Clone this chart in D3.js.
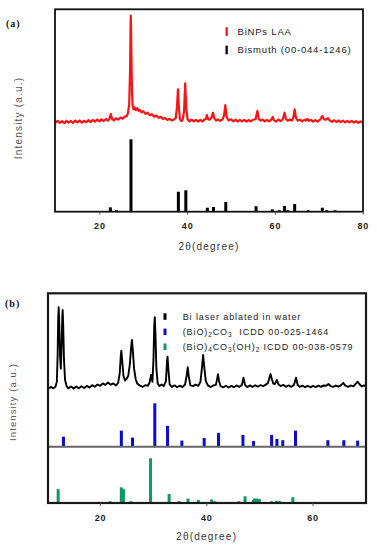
<!DOCTYPE html>
<html>
<head>
<meta charset="utf-8">
<script src="https://cdn.jsdelivr.net/npm/d3@7"></script>
<style>
  body { margin: 0; background: #fff; }
  svg { display: block; }
  .tick text { font-family: "Liberation Sans", Arial, sans-serif; font-weight: bold; font-size: 9px; letter-spacing: 0.8px; fill: #222; }
  .tick line { stroke: #555; }
  .lbl { font-family: "Liberation Sans", Arial, sans-serif; fill: #333; }
  .panel { font-family: "Liberation Serif", "Times New Roman", serif; font-weight: bold; font-size: 10px; letter-spacing: 1px; fill: #111; }
</style>
</head>
<body>
<svg id="chart" width="377" height="550"></svg>
<script>
// ====== panel (a) data ======
// measured BiNPs LAA pattern, [2theta, intensity]
const laaPattern = [
  [10,8.0],[10.5,9.6],[11,7.9],[11.5,9.4],[12,7.6],[12.5,9.7],[13,8.1],[13.5,9.5],[14,7.8],[14.5,9.8],
  [15,8.2],[15.5,9.9],[16,8.0],[16.5,9.6],[17,8.4],[17.5,10.2],[18,8.5],[18.5,10.4],[19,8.9],[19.5,10.6],
  [20,9.1],[20.5,10.9],[21,9.4],[21.5,11.2],[22,9.8],[22.3,11.5],[22.6,15.5],[22.9,11.2],[23.3,10.0],[23.8,11.8],
  [24.3,10.6],[24.8,12.4],[25.3,11.4],[25.8,13.2],[26.2,13.6],[26.5,16],[26.8,24],[27.0,55],[27.1,88],[27.15,100],
  [27.22,90],[27.32,58],[27.45,32],[27.6,22],[27.8,19.5],[28.0,21.2],[28.3,18.8],[28.6,20.6],[28.9,18.2],[29.2,19.0],
  [29.6,16.8],[30.0,18.0],[30.5,15.6],[31,16.6],[31.5,14.4],[32,15.2],[32.5,13.2],[33,14.1],[33.5,12.2],[34,13.0],
  [34.5,11.2],[35,12.0],[35.5,10.4],[36,11.3],[36.5,9.9],[37,10.8],[37.4,12],[37.7,22],[37.9,36.7],[38.1,22],
  [38.35,11],[38.7,9.3],[39.0,10.6],[39.3,18],[39.55,41.9],[39.8,20],[40.1,11],[40.5,9.2],[41,10.7],[41.5,9.1],
  [42,10.5],[42.5,9.0],[43,10.4],[43.5,9.1],[44,10.8],[44.3,11.5],[44.5,14.6],[44.75,11],[45.1,10.6],[45.5,12.0],
  [45.9,16.6],[46.2,11.5],[46.6,9.8],[47,10.9],[47.5,9.6],[48.1,11.0],[48.4,14],[48.7,23.2],[49.0,13],[49.4,10.0],
  [50,10.9],[50.5,9.2],[51,10.6],[51.5,9.0],[52,10.5],[52.5,9.1],[53,10.4],[53.5,8.9],[54,10.3],[54.5,9.2],
  [55,10.5],[55.6,11],[56.0,18.1],[56.3,11.5],[56.7,9.8],[57.2,10.7],[57.7,9.1],[58.2,10.5],[58.7,9.2],[59.2,10.8],
  [59.5,12.9],[59.8,10.0],[60.3,9.0],[60.8,10.6],[61.3,9.3],[61.8,11],[62.2,16.6],[62.5,11.3],[62.9,9.7],[63.4,10.8],
  [63.9,9.8],[64.2,12.5],[64.5,19.5],[64.8,12.2],[65.2,9.8],[65.7,10.6],[66.2,9.1],[66.7,10.4],[67.1,9.9],[67.4,11.2],
  [67.7,9.6],[68.2,10.4],[68.7,8.9],[69.2,10.2],[69.7,9.0],[70.3,10.6],[70.8,13.8],[71.2,10.8],[71.6,10.6],[72.1,12],
  [72.5,9.8],[73,8.8],[73.5,10.1],[74,8.6],[74.5,9.9],[75,8.5],[75.5,9.8],[76,8.3],[76.5,9.6],[77,8.2],
  [77.5,9.5],[78,8.0],[78.5,9.4],[79,7.9],[79.5,9.2],[80,7.8]
];
// Bismuth reference 00-044-1246
const biPos = [22.5, 23.9, 27.2, 38.0, 39.7, 44.6, 46.0, 48.8, 55.7, 59.4, 61.0, 62.2, 62.9, 64.5, 67.6, 70.8, 71.8, 73.7];
const biInt = [6, 2, 100, 27.6, 29.6, 5.5, 6.5, 13.4, 7.5, 3.3, 2, 7.9, 2, 10.6, 2, 5.5, 2, 2];
const ticksA = [20, 40, 60, 80];

// ====== panel (b) data ======
const waterPattern = [
  [10.3,7.5],[10.8,9.2],[11.2,7.6],[11.6,9.5],[11.85,15],[12.0,45],[12.1,85],[12.2,100],[12.32,80],[12.45,45],
  [12.6,30],[12.75,55],[12.88,90],[12.95,96.9],[13.05,80],[13.2,40],[13.4,17],[13.7,10],[14.0,7.6],[14.5,9.8],
  [15,7.3],[15.5,9.6],[16,7.6],[16.5,9.9],[17,8.0],[17.5,10.4],[18,8.6],[18.5,11.2],[19,9.4],[19.5,11.9],
  [20,10.5],[20.5,13.2],[21,11.5],[21.5,14.2],[22,11.8],[22.5,13.2],[23,10.8],[23.4,14],[23.7,25],[23.9,45],
  [24.0,50.5],[24.15,40],[24.4,22],[24.7,16.5],[25.0,18.4],[25.3,22],[25.6,35],[25.85,55],[26.0,62.7],[26.15,52],
  [26.4,30],[26.7,18],[27.0,13],[27.5,10.6],[28,9.2],[28.5,11.2],[29,10.6],[29.3,14],[29.6,22.8],[29.85,15],
  [30.05,40],[30.2,80],[30.3,88.6],[30.42,70],[30.6,30],[30.85,13],[31.2,10.2],[31.6,12.0],[32.0,10.2],[32.4,16],
  [32.6,38],[32.7,43.7],[32.85,30],[33.1,12],[33.5,9.2],[34,11.0],[34.5,8.8],[35,10.6],[35.5,9.0],[36.0,12],
  [36.3,22],[36.5,31.6],[36.7,21],[37.0,11],[37.5,10.2],[38,11.8],[38.5,10.4],[38.9,15],[39.2,32],[39.4,45.6],
  [39.6,33],[39.9,16],[40.3,11],[40.8,9.0],[41.3,10.8],[41.8,11.5],[42.0,17],[42.2,23.6],[42.4,16],[42.7,10],
  [43.2,8.8],[43.7,10.6],[44.2,8.6],[44.7,10.4],[45.2,8.9],[45.7,10.8],[46.2,9.2],[46.7,11.5],[47.0,19.7],[47.3,11.5],
  [47.7,9.0],[48.2,10.9],[48.7,9.2],[49.2,11.1],[49.7,9.6],[50.2,11.3],[50.7,10.0],[51.2,11.8],[51.6,13.5],[51.9,20],
  [52.1,23.9],[52.35,18],[52.6,13],[52.9,12.5],[53.3,17.1],[53.6,12],[54,10.2],[54.5,11.5],[55,9.5],[55.5,10.9],
  [56,9.3],[56.5,11.5],[56.9,19.7],[57.2,11.5],[57.6,9.2],[58.1,10.7],[58.6,8.9],[59.1,10.5],[59.6,8.8],[60.1,10.3],
  [60.6,9.0],[61.1,10.6],[61.6,9.2],[62.1,10.9],[62.6,10.6],[63.0,12.5],[63.4,10.2],[63.9,9.3],[64.4,10.8],[64.9,9.5],
  [65.4,11.2],[65.8,13.7],[66.2,10.8],[66.7,9.3],[67.2,10.8],[67.7,9.9],[68.1,12.5],[68.5,15.2],[68.9,12],[69.3,9.7],
  [69.7,11.0],[70.0,10]
];
// (BiO)2CO3 ICDD 00-025-1464
const bicPos = [13.1, 24.0, 26.1, 30.3, 32.7, 35.4, 39.6, 42.3, 46.9, 48.9, 52.3, 53.3, 54.4, 56.8, 62.9, 65.9, 68.5];
const bicInt = [23, 37, 21, 100, 48, 14, 20, 32, 27, 13, 27, 18, 15, 37, 15, 15, 14];
// (BiO)4CO3(OH)2 ICDD 00-038-0579
const bohPos = [12.1, 17.3, 21.9, 24.0, 24.4, 25.8, 29.5, 30.4, 33.0, 34.9, 36.55, 38.5, 41.0, 41.6, 44.6, 46.1, 47.3, 48.85, 49.1, 49.5, 50.0, 52.3, 53.2, 53.8, 56.3];
const bohInt = [31, 2, 4, 35, 31, 4, 100, 2, 20, 4, 10, 7, 8, 4, 2, 4, 15, 7, 10, 10, 9, 4, 5, 4, 13];
const ticksB = [20, 40, 60];

const RED = "#f71414", BLUE = "#0b0bcc", GREEN = "#12966a";

const svg = d3.select("#chart");

// ============== PANEL A ==============
const xA = d3.scaleLinear().domain([10, 80]).range([55.5, 362.7]);
const yLaa = d3.scaleLinear().domain([0, 100]).range([132, 15.7]);
const yBi = d3.scaleLinear().domain([0, 100]).range([211.7, 139.3]);

const gA = svg.append("g");
const line = (x, y) => d3.line().x(d => x(d[0])).y(d => y(d[1]));

gA.append("path").datum(laaPattern)
  .attr("d", line(xA, yLaa))
  .attr("fill", "none").attr("stroke", RED).attr("stroke-width", 2.2).attr("stroke-linejoin", "round");

gA.selectAll(".bi").data(biPos).enter().append("rect")
  .attr("x", d => xA(d) - 1.5).attr("width", 3)
  .attr("y", (d, i) => yBi(biInt[i]))
  .attr("height", (d, i) => yBi(0) - yBi(biInt[i]))
  .attr("fill", "#000");

gA.append("rect").attr("x", 55).attr("y", 9.3).attr("width", 308).attr("height", 202.4)
  .attr("fill", "none").attr("stroke", "#111").attr("stroke-width", 1.8);

gA.append("g").attr("transform", "translate(0,211.7)")
  .call(d3.axisBottom(xA).tickValues(ticksA).tickSize(3).tickPadding(8))
  .call(g => g.select(".domain").remove());

gA.append("text").attr("class", "lbl").attr("x", 209).attr("y", 249.5)
  .attr("text-anchor", "middle").style("font-size", "10px").style("letter-spacing", "1.2px")
  .text("2θ(degree)");
gA.append("text").attr("class", "lbl")
  .attr("transform", "translate(22,118) rotate(-90)")
  .attr("text-anchor", "middle").style("font-size", "10px").style("letter-spacing", "1.2px").style("fill", "#555")
  .text("Intensity (a.u.)");
gA.append("text").attr("class", "panel").attr("x", 6).attr("y", 27).text("(a)");

// legend a
const legA = [["BiNPs LAA", RED, 31.5], ["Bismuth (00-044-1246)", "#000", 50]];
legA.forEach(([t, c, y]) => {
  gA.append("rect").attr("x", 225.5).attr("y", y - 4.3).attr("width", 2.3).attr("height", 8.6).attr("fill", c);
  gA.append("text").attr("class", "lbl").attr("x", 237.5).attr("y", y + 3.4)
    .style("font-size", "9.5px").style("letter-spacing", "0.8px").style("fill", "#222").text(t);
});

// ============== PANEL B ==============
const xB = d3.scaleLinear().domain([10, 70]).range([47, 365.6]);
const yWat = d3.scaleLinear().domain([0, 100]).range([395, 307.3]);
const yBic = d3.scaleLinear().domain([0, 100]).range([446.7, 403.3]);
const yBoh = d3.scaleLinear().domain([0, 100]).range([503, 458.3]);

const gB = svg.append("g");

gB.append("path").datum(waterPattern)
  .attr("d", line(xB, yWat))
  .attr("fill", "none").attr("stroke", "#000").attr("stroke-width", 1.9).attr("stroke-linejoin", "round");

gB.selectAll(".bic").data(bicPos).enter().append("rect")
  .attr("x", d => xB(d) - 1.5).attr("width", 3)
  .attr("y", (d, i) => yBic(bicInt[i]))
  .attr("height", (d, i) => yBic(0) - yBic(bicInt[i]))
  .attr("fill", BLUE);

gB.selectAll(".boh").data(bohPos).enter().append("rect")
  .attr("x", d => xB(d) - 1.5).attr("width", 3)
  .attr("y", (d, i) => yBoh(bohInt[i]))
  .attr("height", (d, i) => yBoh(0) - yBoh(bohInt[i]))
  .attr("fill", GREEN);

gB.append("line").attr("x1", 48).attr("x2", 366).attr("y1", 446.7).attr("y2", 446.7)
  .attr("stroke", "#666").attr("stroke-width", 2);

gB.append("rect").attr("x", 48).attr("y", 293.3).attr("width", 318).attr("height", 209.7)
  .attr("fill", "none").attr("stroke", "#1a1a1a").attr("stroke-width", 2.2);

gB.append("g").attr("transform", "translate(0,503)")
  .call(d3.axisBottom(xB).tickValues(ticksB).tickSize(3).tickPadding(9))
  .call(g => g.select(".domain").remove());

gB.append("text").attr("class", "lbl").attr("x", 206.7).attr("y", 540)
  .attr("text-anchor", "middle").style("font-size", "10px").style("letter-spacing", "1.2px")
  .text("2θ(degree)");
gB.append("text").attr("class", "lbl")
  .attr("transform", "translate(16,402) rotate(-90)")
  .attr("text-anchor", "middle").style("font-size", "9.5px").style("letter-spacing", "1.1px").style("fill", "#555")
  .text("Intensity (a.u.)");
gB.append("text").attr("class", "panel").attr("x", 5).attr("y", 307).text("(b)");

// legend b
const legB = [
  [[["Bi laser ablated in water", 0]], "#000", 316.5],
  [[["(BiO)", 0], ["2", 1], ["CO", 0], ["3", 1], ["  ICDD 00-025-1464", 0]], BLUE, 331.8],
  [[["(BiO)", 0], ["4", 1], ["CO", 0], ["3", 1], ["(OH)", 0], ["2", 1], [" ICDD 00-038-0579", 0]], GREEN, 346.7]
];
legB.forEach(([parts, c, y]) => {
  gB.append("rect").attr("x", 163.5).attr("y", y - 3.2).attr("width", 3).attr("height", 6.5).attr("fill", c);
  const t = gB.append("text").attr("class", "lbl").attr("x", 182.7).attr("y", y + 3.2)
    .attr("xml:space", "preserve")
    .style("font-size", "9px").style("letter-spacing", "0.9px").style("fill", "#222");
  parts.forEach(([s, sub]) => {
    const ts = t.append("tspan").text(s);
    if (sub) ts.attr("baseline-shift", "-25%").style("font-size", "6.5px");
  });
});
</script>
</body>
</html>
